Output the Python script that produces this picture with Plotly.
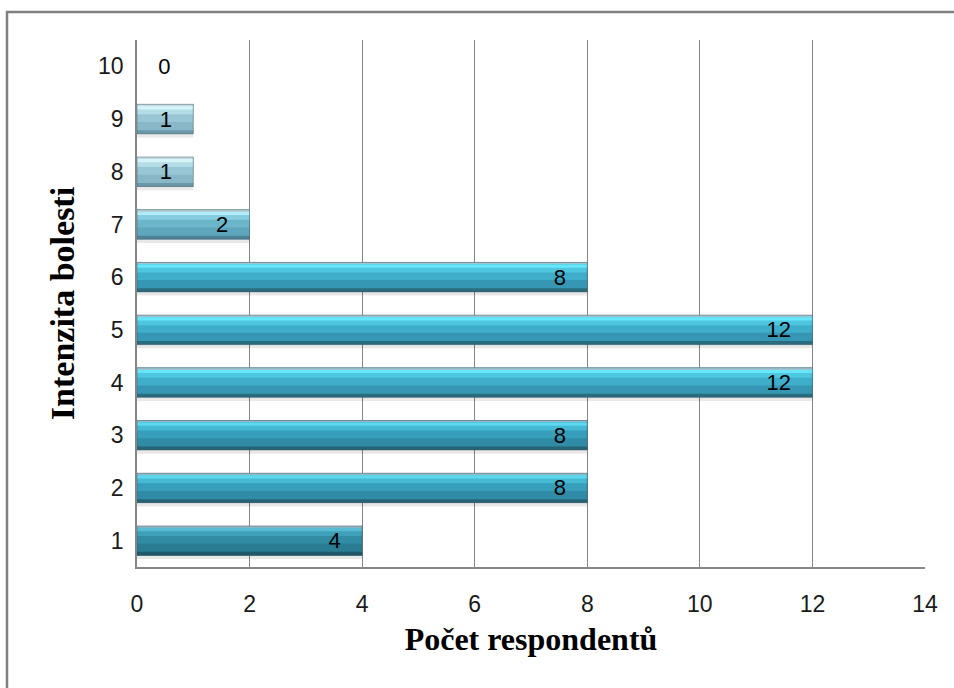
import plotly.graph_objects as go

# Data
intensity = [1, 2, 3, 4, 5, 6, 7, 8, 9, 10]
respondents = [4, 8, 8, 12, 12, 8, 2, 1, 1, 0]
x_ticks = [0, 2, 4, 6, 8, 10, 12, 14]

# Bevel colour layers per category (1 -> 10)
G1 = dict(mid="#2a7c92", upper="#318ca4", light="#3ea0b9", shine="#58bbd2", top="#8cb4c0", bottom="#1f5a6a")
G2 = dict(mid="#2f8ba6", upper="#379fbb", light="#45b8d3", shine="#5ed8ee", top="#94bcc8", bottom="#256475")
G4 = dict(mid="#3597b3", upper="#3eaecb", light="#4ec6e0", shine="#68e6f9", top="#9fc6d0", bottom="#2a6c7e")
G7 = dict(mid="#5ea6bb", upper="#6cb6ca", light="#86cde0", shine="#b0ecf8", top="#b4d0d8", bottom="#4a8396")
G8 = dict(mid="#88b8c8", upper="#98c6d4", light="#b4dde8", shine="#d4f4fa", top="#c4dce2", bottom="#6a98a8")
groups = [G1, G2, G2, G4, G4, G4, G7, G8, G8, G8]

W = 0.56
fig = go.Figure()


def layer(key, lo, hi):
    # lo/hi are fractions of bar thickness measured from the bottom edge
    fig.add_trace(go.Bar(
        y=intensity, x=respondents, orientation="h",
        marker=dict(color=[g[key] for g in groups], line=dict(width=0)),
        width=W * (hi - lo), offset=-W / 2 + W * lo,
        hoverinfo="skip", showlegend=False))


# shadow below bars
fig.add_trace(go.Bar(y=intensity, x=respondents, orientation="h",
                     marker=dict(color="rgba(0,0,0,0.09)", line=dict(width=0)),
                     width=0.08, offset=-W / 2 - 0.07, hoverinfo="skip", showlegend=False))
layer("mid", 0.0, 1.0)
layer("upper", 0.40, 1.0)
layer("light", 0.66, 0.95)
layer("shine", 0.82, 0.93)
layer("top", 0.95, 1.0)
layer("bottom", 0.0, 0.12)

# labels
labels = [(f"{v}" + "\u00a0" * 3) if v > 0 else ("\u00a0" * 3 + f"{v}") for v in respondents]
positions = ["inside" if v > 0 else "outside" for v in respondents]
outline = ["rgba(60,80,90,0.45)" if v > 0 else "rgba(0,0,0,0)" for v in respondents]
label_font = dict(family="Liberation Sans", size=22, color="#000000")
fig.add_trace(go.Bar(y=intensity, x=respondents, orientation="h",
                     marker=dict(color="rgba(0,0,0,0)", line=dict(width=1, color=outline)),
                     width=W, offset=-W / 2,
                     text=labels, textposition=positions, insidetextanchor="end",
                     constraintext="none",
                     textfont=label_font, insidetextfont=label_font, outsidetextfont=label_font,
                     cliponaxis=False, hoverinfo="skip", showlegend=False))

fig.update_layout(
    barmode="overlay",
    width=954, height=688,
    margin=dict(l=137, r=29, t=40, b=121),
    paper_bgcolor="#ffffff", plot_bgcolor="#ffffff",
    showlegend=False,
    xaxis=dict(range=[0, 14], tickvals=x_ticks, ticktext=[str(t) for t in x_ticks],
               showgrid=True, gridcolor="#868686", gridwidth=1,
               showline=True, linecolor="#868686", linewidth=1.5, mirror=False,
               zeroline=False, ticks="", ticklabelstandoff=16,
               tickfont=dict(family="Liberation Sans", size=23, color="#1a1a1a"),
               title=dict(text="Počet respondentů", standoff=11,
                          font=dict(family="Liberation Serif", size=32, color="#000000", weight="bold"))),
    yaxis=dict(range=[0.5, 10.5], tickvals=intensity, ticktext=[str(i) for i in intensity],
               showgrid=False, showline=True, linecolor="#868686", linewidth=1.5,
               zeroline=False, ticks="", ticklabelstandoff=7,
               tickfont=dict(family="Liberation Sans", size=23, color="#1a1a1a"),
               title=dict(text="Intenzita bolesti", standoff=13,
                          font=dict(family="Liberation Serif", size=34, color="#000000", weight="bold"))),
    shapes=[dict(type="rect", xref="paper", yref="paper",
                 x0=(7 - 137) / 788, x1=(970 - 137) / 788,
                 y0=(567 - 700) / 527, y1=(567 - 12) / 527,
                 line=dict(color="#808080", width=2.5), fillcolor="rgba(0,0,0,0)", layer="below")],
)

fig.write_html("out.html")
